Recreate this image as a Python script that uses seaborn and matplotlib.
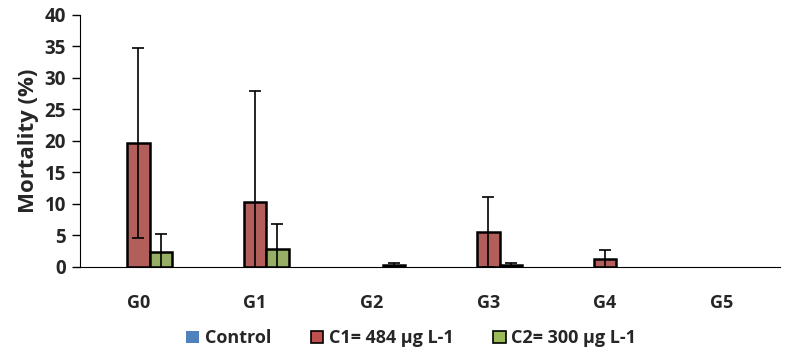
import pandas as pd
import seaborn as sns
import matplotlib.pyplot as plt
from matplotlib.patches import Patch

# Datos
generaciones = ['G0', 'G1', 'G2', 'G3', 'G4', 'G5']
series = ['Control', 'C1= 484 µg L-1', 'C2= 300 µg L-1']
control = [0, 0, 0, 0, 0, 0]
c1 = [19.6, 10.2, 0, 5.5, 1.2, 0]
c2 = [2.3, 2.8, 0.2, 0.3, 0, 0]
control_err = [0, 0, 0, 0, 0, 0]
c1_err = [15.1, 17.7, 0, 5.6, 1.5, 0]
c2_err = [2.9, 4.0, 0.3, 0.3, 0, 0]

colores = ['#4F81BD', '#C0504D', '#9BBB59']

df = pd.DataFrame({
    'Generacion': generaciones * 3,
    'Serie': [s for s in series for _ in generaciones],
    'Mortalidad': control + c1 + c2,
})
errores = [control_err, c1_err, c2_err]

sns.set_style('white')
plt.rcParams['font.family'] = ['Open Sans', 'DejaVu Sans']
plt.rcParams['font.weight'] = 'bold'

fig = plt.figure(figsize=(7.91, 3.56), dpi=100)
ax = fig.add_axes([0.101, 0.251, 0.885, 0.707])

sns.barplot(data=df, x='Generacion', y='Mortalidad', hue='Serie', hue_order=series,
            palette=colores, width=0.58, gap=0, edgecolor='black', linewidth=1.8,
            legend=False, ax=ax)

# Barras de error simétricas
contenedores = list(ax.containers)
for i, cont in enumerate(contenedores):
    for bar, err in zip(cont, errores[i]):
        if bar.get_height() == 0:
            bar.set_linewidth(0)
        if err > 0:
            xc = bar.get_x() + bar.get_width() / 2
            ax.errorbar(xc, bar.get_height(), yerr=err, fmt='none', ecolor='black',
                        elinewidth=1.2, capsize=4, capthick=1.2)

ax.set_ylim(0, 40)
ax.set_xlim(-0.5, 5.5)
ax.set_yticks(range(0, 41, 5))
ax.set_xlabel('')
ax.set_ylabel('Mortality (%)', fontsize=16, fontweight='bold', labelpad=4)
sns.despine(ax=ax)
ax.spines['left'].set_color('black')
ax.spines['bottom'].set_color('black')
ax.tick_params(axis='y', direction='out', length=6, width=1, color='black', labelsize=13.5, pad=4, left=True)
ax.tick_params(axis='x', length=0, labelsize=13, pad=20)
for t in ax.get_xticklabels() + ax.get_yticklabels():
    t.set_fontweight('bold')

handles = [Patch(facecolor=colores[0], edgecolor='none'),
           Patch(facecolor=colores[1], edgecolor='black', linewidth=1.2),
           Patch(facecolor=colores[2], edgecolor='black', linewidth=1.2)]
fig.legend(handles, series, loc='center', bbox_to_anchor=(0.52, 0.05), ncol=3, frameon=False,
           prop={'size': 13, 'weight': 'bold'}, handlelength=0.7, handleheight=0.7,
           handletextpad=0.3, columnspacing=2.2)

plt.savefig('out.png', dpi=100)
